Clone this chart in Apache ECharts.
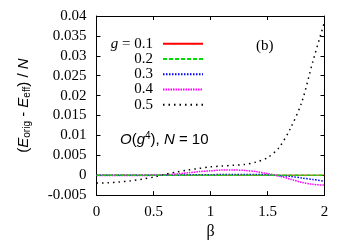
<!DOCTYPE html>
<html>
<head>
<meta charset="utf-8">
<script src="https://cdn.jsdelivr.net/npm/echarts@6/dist/echarts.min.js"></script>
<style>html,body{margin:0;padding:0;background:#fff}#c{width:350px;height:245px}</style>
</head>
<body>
<div id="c"></div>
<script>
const betas = [0,0.1,0.2,0.3,0.4,0.5,0.6,0.7,0.8,0.9,1.0,1.1,1.2,1.3,1.4,1.5,1.6,1.7,1.8,1.9,2.0];
const gNames = ['0.1','0.2','0.3','0.4','0.5'];
const g01 = [0,0,0,0,0,0,0,0,0,0,0,0,0,0,0,0,0,0,0,0,0];
const g02 = [0,0,0,0,0,0,0,0,0,0,0,0,0,0,0,0,0,0,0,0,0];
const g03 = [0,0,0,0,0,0,0,0,0.0001,0.0001,0.0001,0.0002,0.0002,0.0002,0.0002,0.0001,-0.0001,-0.0003,-0.0007,-0.0011,-0.0015];
const g04 = [-0.0001,-0.0001,-0.0001,-0.0001,-0.0001,0,0.0001,0.0003,0.0006,0.0009,0.0011,0.0013,0.0013,0.0012,0.0009,0.0004,-0.0002,-0.0010,-0.0018,-0.0023,-0.0025];
const g05 = [-0.0020,-0.0019,-0.0017,-0.0014,-0.0010,-0.0005,0.0002,0.0008,0.0013,0.0017,0.0021,0.0023,0.0025,0.0027,0.0033,0.0044,0.0069,0.0117,0.0183,0.0288,0.0385];
const yTicks = [-0.005,0,0.005,0.01,0.015,0.02,0.025,0.03,0.035,0.04];
const xTicks = [0,0.5,1,1.5,2];

const serif = 'Liberation Serif';
const sans = 'Liberation Sans';
const allData = [g01,g02,g03,g04,g05];
const styles = [
  {color:'#ff0000', type:'solid', width:1},
  {color:'#00dd00', type:[4,2], width:1.5},
  {color:'#0000ff', type:[1.5,1.5], width:1.5},
  {color:'#ff00ff', type:[1.5,1], width:1.5},
  {color:'#000000', type:[1.5,4], width:1.5}
];
const series = gNames.map((n,i)=>({
  name:n, type:'line', symbol:'none', smooth:0.3,
  data: betas.map((b,j)=>[b, allData[i][j]]),
  lineStyle: styles[i], itemStyle:{color:styles[i].color},
  z: 2 + (i===1?5:i)
}));
const axisCommon = {
  min: xTicks[0], max: xTicks[xTicks.length-1], interval: 0.5,
  axisLine:{show:true, onZero:false, lineStyle:{color:'#000', width:1}},
  axisTick:{show:true, inside:true, length:4, lineStyle:{color:'#000'}},
  splitLine:{show:false}
};
const chart = echarts.init(document.getElementById('c'));
chart.setOption({
  animation:false,
  backgroundColor:'#fff',
  grid:{left:96.5, right:25.5, top:16, bottom:46, containLabel:false},
  xAxis:[
    Object.assign({}, axisCommon, {type:'value', position:'bottom',
      axisLabel:{margin:9, fontFamily:serif, fontSize:15, color:'#000',
        formatter:v=>String(parseFloat(v.toFixed(2)))},
      name:'β', nameLocation:'middle', nameGap:28,
      nameTextStyle:{fontFamily:serif, fontSize:16, color:'#000'}}),
    Object.assign({}, axisCommon, {type:'value', position:'top', axisLabel:{show:false}})
  ],
  yAxis:[
    {type:'value', min:yTicks[0], max:yTicks[yTicks.length-1], interval:0.005, position:'left',
      axisLine:{show:true, onZero:false, lineStyle:{color:'#000'}},
      axisTick:{show:true, inside:true, length:4, lineStyle:{color:'#000'}},
      splitLine:{show:false},
      axisLabel:{margin:10, fontFamily:serif, fontSize:15, color:'#000',
        formatter:v=>String(parseFloat(v.toFixed(3)))},
      name:'({i|E}{sub|orig} - {i|E}{sub|eff}) / {i|N}', nameLocation:'middle', nameGap:64, nameRotate:90,
      nameTextStyle:{fontFamily:sans, fontSize:15, color:'#000', lineHeight:18,
        rich:{
          i:{fontFamily:sans, fontSize:15, fontStyle:'italic', color:'#000', lineHeight:18},
          sub:{fontFamily:sans, fontSize:10, color:'#000', lineHeight:10, verticalAlign:'bottom'}
        }}
    },
    {type:'value', min:yTicks[0], max:yTicks[yTicks.length-1], interval:0.005, position:'right',
      axisLine:{show:true, onZero:false, lineStyle:{color:'#000'}},
      axisTick:{show:true, inside:true, length:4, lineStyle:{color:'#000'}},
      splitLine:{show:false}, axisLabel:{show:false}}
  ],
  legend:{
    orient:'vertical', left:103, top:31, align:'right',
    itemWidth:40, itemHeight:10, itemGap:0,
    data: gNames,
    itemStyle:{opacity:0, borderWidth:0, color:'rgba(0,0,0,0)'},
    formatter: n => n === '0.1' ? '{i|g} = 0.1' : n,
    textStyle:{fontFamily:serif, fontSize:15, color:'#000', width:45, align:'right', lineHeight:15.3, padding:[0,5,0,0],
      rich:{i:{fontFamily:serif, fontSize:15, fontStyle:'italic', color:'#000'}}}
  },
  graphic:[
    {type:'text', left:256, top:39, style:{text:'(b)', font:'15px "Liberation Serif"', fill:'#000'}},
    {type:'text', left:120, top:131, style:{
      text:'{i|O}(' + '{i|g}{sup|4}), {i|N} = 10',
      font:'15px "Liberation Sans"', fill:'#000',
      rich:{
        i:{fontFamily:sans, fontSize:15, fontStyle:'italic', fill:'#000', lineHeight:18},
        sup:{fontFamily:sans, fontSize:10, fill:'#000', lineHeight:10, verticalAlign:'top'}
      }}}
  ],
  series: series
});
</script>
</body>
</html>
